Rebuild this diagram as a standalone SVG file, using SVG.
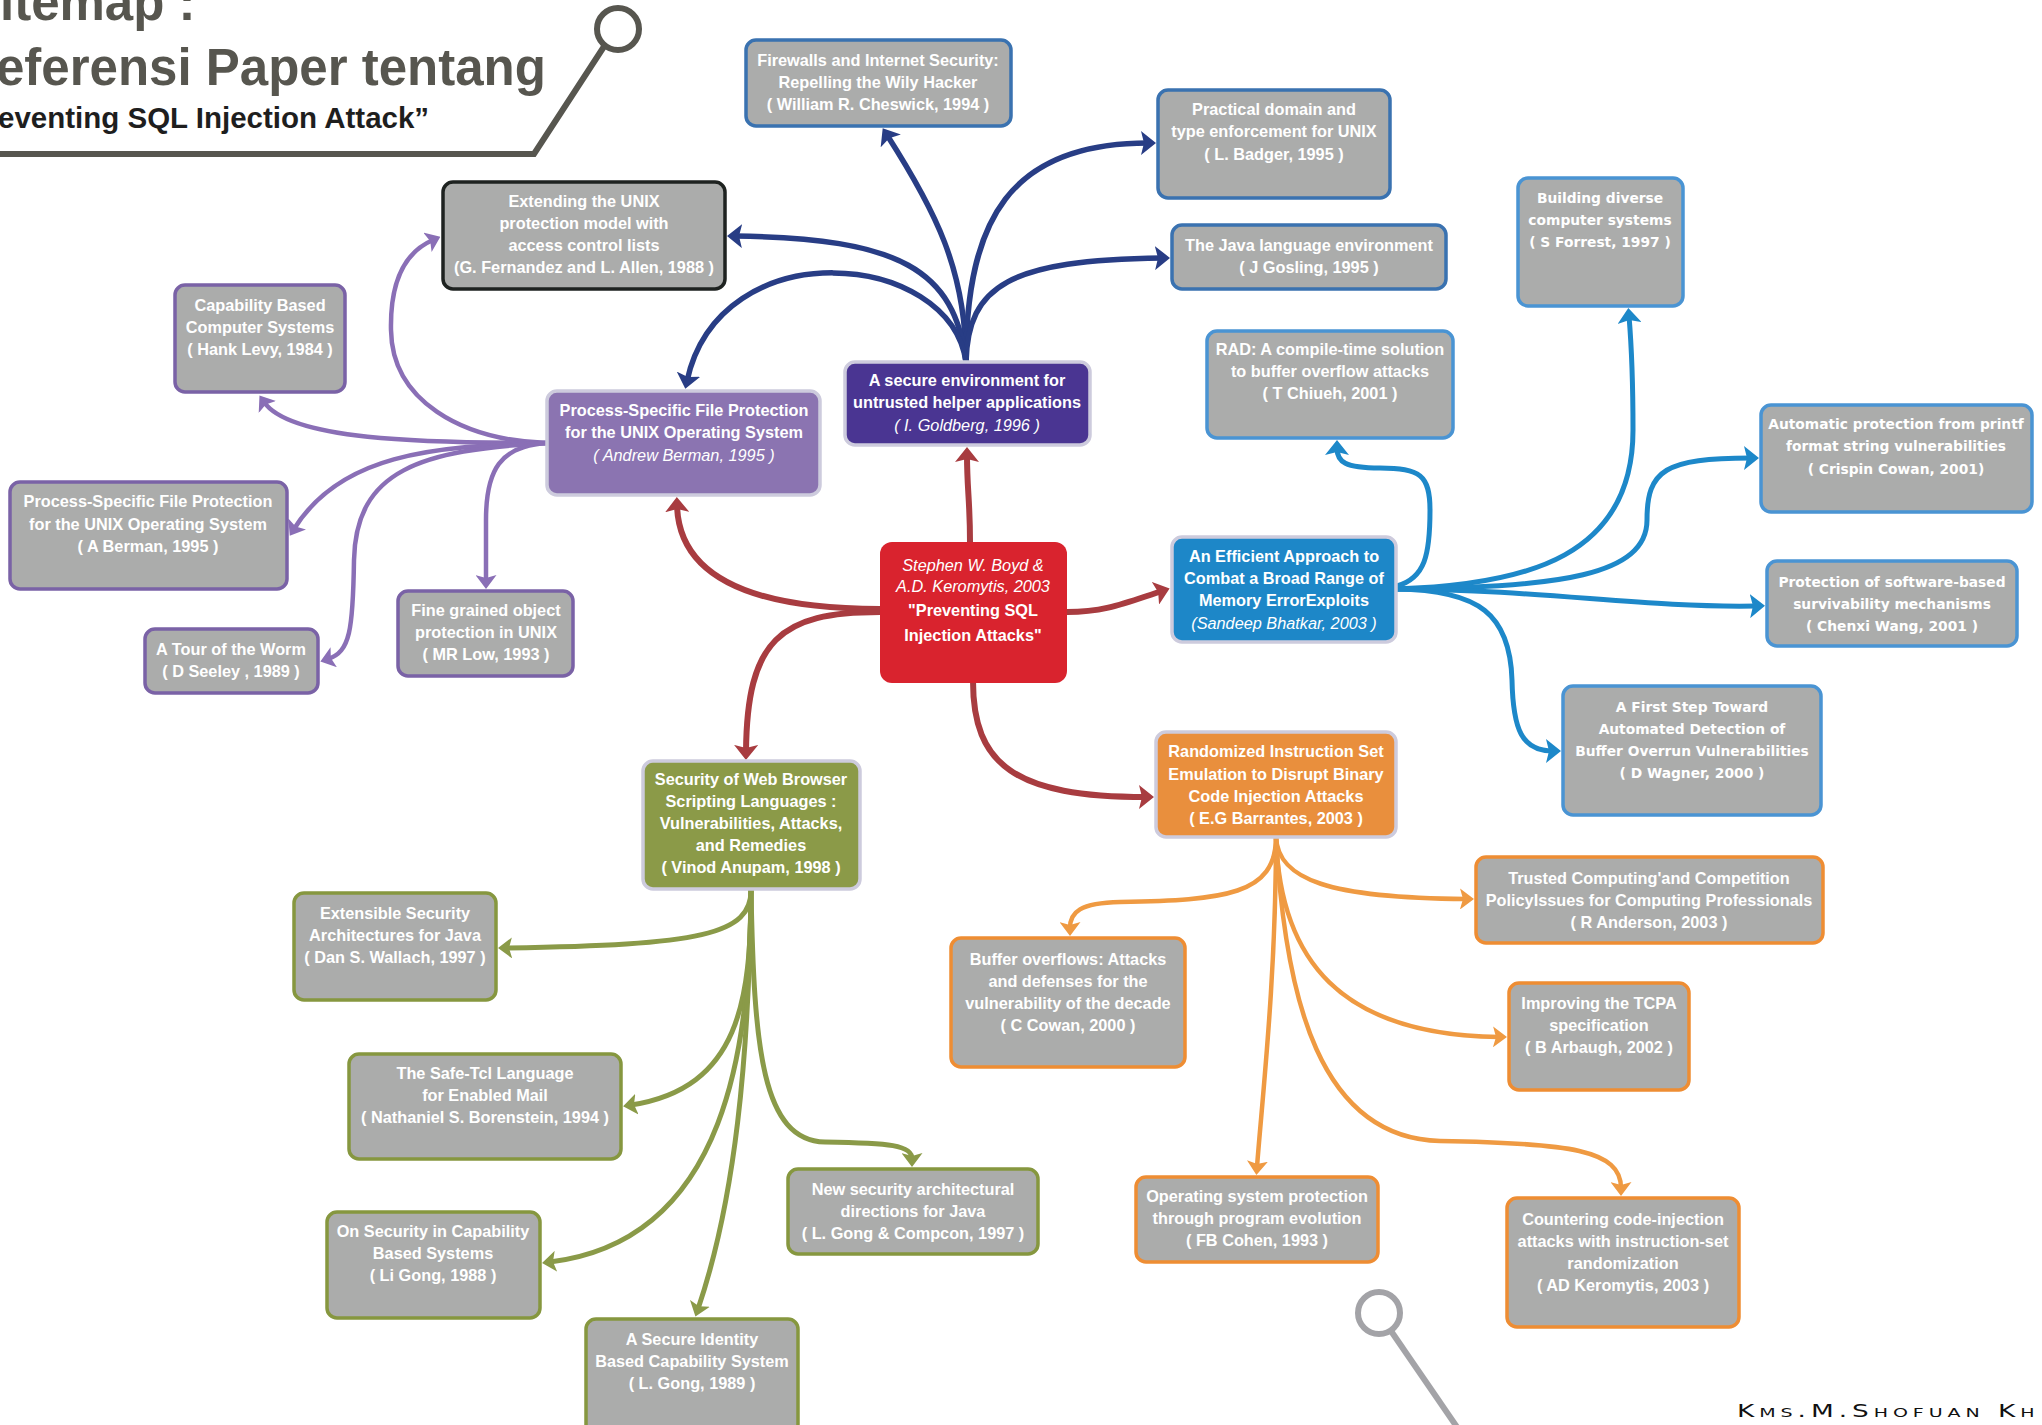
<svg xmlns="http://www.w3.org/2000/svg" width="2042" height="1425" viewBox="0 0 2042 1425">
<style>
.box{fill:#abacab;stroke-width:3.5}
.bNavy{stroke:#3a72b0}
.bBlue{stroke:#4a94d3}
.bPurple{stroke:#7a62a6}
.bBlack{stroke:#1e2220}
.bGreen{stroke:#86973f}
.bOrange{stroke:#ee8d33}
.hub{stroke:#cdcbdd;stroke-width:3.5}
.t{fill:#ffffff;text-anchor:middle;font-weight:bold;font-family:"Liberation Sans",Arial,sans-serif;font-size:16.3px}
.td{font-family:"DejaVu Sans",Verdana,sans-serif;font-size:13.8px}
.it{font-style:italic;font-weight:normal}
.c{fill:none;stroke-linecap:butt}
.cRed{stroke:#a83c40;stroke-width:6;marker-end:url(#mRed)}
.cNavy{stroke:#283d85;stroke-width:5.5;marker-end:url(#mNavy)}
.cPurple{stroke:#8a6fb6;stroke-width:4.5;marker-end:url(#mPurple)}
.cBlue{stroke:#1d88c9;stroke-width:5;marker-end:url(#mBlue)}
.cGreen{stroke:#8a9a48;stroke-width:5;marker-end:url(#mGreen)}
.cOrange{stroke:#ef9a42;stroke-width:4.5;marker-end:url(#mOrange)}
.title{fill:#57564f;font-family:"Liberation Sans",Arial,sans-serif;font-weight:bold}
</style>
<defs>
<marker id="mRed" markerUnits="userSpaceOnUse" markerWidth="15" markerHeight="24" refX="7" refY="12" orient="auto"><path d="M0,0 L15,12 L0,24 L3,12 Z" fill="#a83c40"/></marker>
<marker id="mNavy" markerUnits="userSpaceOnUse" markerWidth="15" markerHeight="24" refX="7" refY="12" orient="auto"><path d="M0,0 L15,12 L0,24 L3,12 Z" fill="#283d85"/></marker>
<marker id="mBlue" markerUnits="userSpaceOnUse" markerWidth="15" markerHeight="24" refX="7" refY="12" orient="auto"><path d="M0,0 L15,12 L0,24 L3,12 Z" fill="#1d88c9"/></marker>
<marker id="mPurple" markerUnits="userSpaceOnUse" markerWidth="14" markerHeight="21" refX="6" refY="10.5" orient="auto"><path d="M0,0 L14,10.5 L0,21 L3,10.5 Z" fill="#8a6fb6"/></marker>
<marker id="mGreen" markerUnits="userSpaceOnUse" markerWidth="14" markerHeight="21" refX="6" refY="10.5" orient="auto"><path d="M0,0 L14,10.5 L0,21 L3,10.5 Z" fill="#8a9a48"/></marker>
<marker id="mOrange" markerUnits="userSpaceOnUse" markerWidth="14" markerHeight="21" refX="6" refY="10.5" orient="auto"><path d="M0,0 L14,10.5 L0,21 L3,10.5 Z" fill="#ef9a42"/></marker>
</defs>
<rect width="2042" height="1425" fill="#ffffff"/>

<g id="title">
<text class="title" x="0" y="20" font-size="51">itemap :</text>
<text class="title" x="-4" y="85" font-size="51">eferensi Paper tentang</text>
<text x="-2" y="128" font-size="29.5" font-weight="bold" fill="#1e1e1e" font-family="Liberation Sans, Arial, sans-serif">eventing SQL Injection Attack”</text>
<polyline points="-5,154 534,154 605,45" fill="none" stroke="#57564f" stroke-width="6"/>
<circle cx="618" cy="29" r="21" fill="none" stroke="#57564f" stroke-width="6"/>
</g>

<g id="connectors">
<path class="c cRed" d="M970,542 C970,500 967,490 967,455"/>
<path class="c cRed" d="M880,609 C780,609 679,590 677,505"/>
<path class="c cRed" d="M880,612 C780,612 747,640 746,752"/>
<path class="c cRed" d="M1067,612 C1105,612 1125,603 1162,591"/>
<path class="c cRed" d="M973,681 C973,765 1015,797 1146,797"/>

<path class="c cNavy" d="M966,362 C966,270 935,210 887,135"/>
<path class="c cNavy" d="M966,362 C966,220 1010,143 1148,143"/>
<path class="c cNavy" d="M966,362 C955,270 900,238 735,236"/>
<path class="c cNavy" d="M966,362 C968,285 1010,260 1162,258"/>
<path class="c cNavy" d="M966,362 C950,250 720,230 687,381"/>

<path class="c cPurple" d="M547,443 C460,440 392,400 391,330 C390,280 405,252 433,240"/>
<path class="c cPurple" d="M547,443 C420,443 290,440 264,402"/>
<path class="c cPurple" d="M547,443 C430,446 340,455 294,529"/>
<path class="c cPurple" d="M547,443 C420,450 356,470 354,560 C353,630 350,652 328,659"/>
<path class="c cPurple" d="M547,443 C500,446 486,470 486,520 L486,581"/>

<path class="c cBlue" d="M1396,589 C1530,585 1633,555 1633,430 C1633,370 1631,340 1629,316"/>
<path class="c cBlue" d="M1396,589 C1560,588 1647,575 1647,520 C1647,470 1665,458 1751,458"/>
<path class="c cBlue" d="M1396,589 C1550,590 1640,608 1757,606"/>
<path class="c cBlue" d="M1396,589 C1480,590 1510,615 1512,680 C1513,730 1522,751 1553,751"/>
<path class="c cBlue" d="M1397,586 C1425,578 1430,555 1430,510 C1430,475 1420,468 1380,468 C1345,468 1337,462 1337,448"/>

<path class="c cGreen" d="M751,889 C752,935 700,945 506,948"/>
<path class="c cGreen" d="M751,889 C751,1000 740,1088 631,1105"/>
<path class="c cGreen" d="M751,889 C754,1050 762,1140 825,1142 C890,1143 912,1145 912,1159"/>
<path class="c cGreen" d="M751,889 C750,1040 730,1240 550,1262"/>
<path class="c cGreen" d="M751,889 C749,1060 735,1200 698,1309"/>

<path class="c cOrange" d="M1276,837 C1276,895 1225,900 1120,902 C1080,903 1070,912 1070,928"/>
<path class="c cOrange" d="M1276,837 C1278,880 1330,898 1466,899"/>
<path class="c cOrange" d="M1276,837 C1280,960 1340,1035 1499,1037"/>
<path class="c cOrange" d="M1276,837 C1276,980 1262,1100 1257,1167"/>
<path class="c cOrange" d="M1276,837 C1285,1000 1320,1138 1440,1141 C1570,1143 1621,1150 1621,1188"/>
</g>

<g id="n-firewalls"><rect class="box bNavy" x="746" y="40" width="265" height="86" rx="10"/>
<text class="t"><tspan x="878" y="66">Firewalls and Internet Security:</tspan><tspan x="878" y="88">Repelling the Wily Hacker</tspan><tspan x="878" y="110">( William R. Cheswick, 1994 )</tspan></text></g>

<g id="n-practical"><rect class="box bNavy" x="1158" y="90" width="232" height="108" rx="10"/>
<text class="t"><tspan x="1274" y="115">Practical domain and</tspan><tspan x="1274" y="137">type enforcement for UNIX</tspan><tspan x="1274" y="160">( L. Badger, 1995 )</tspan></text></g>

<g id="n-extending"><rect class="box bBlack" x="443" y="182" width="282" height="107" rx="10"/>
<text class="t"><tspan x="584" y="207">Extending the UNIX</tspan><tspan x="584" y="229">protection model with</tspan><tspan x="584" y="251">access control lists</tspan><tspan x="584" y="273">(G. Fernandez and L. Allen, 1988 )</tspan></text></g>

<g id="n-java"><rect class="box bNavy" x="1172" y="225" width="274" height="64" rx="10"/>
<text class="t"><tspan x="1309" y="251">The Java language environment</tspan><tspan x="1309" y="273">( J Gosling, 1995 )</tspan></text></g>

<g id="n-building"><rect class="box bBlue" x="1518" y="178" width="165" height="128" rx="10"/>
<text class="t td"><tspan x="1600" y="203">Building diverse</tspan><tspan x="1600" y="225">computer systems</tspan><tspan x="1600" y="247">( S Forrest, 1997 )</tspan></text></g>

<g id="n-capability"><rect class="box bPurple" x="175" y="285" width="170" height="107" rx="10"/>
<text class="t"><tspan x="260" y="311">Capability Based</tspan><tspan x="260" y="333">Computer Systems</tspan><tspan x="260" y="355">( Hank Levy, 1984 )</tspan></text></g>

<g id="n-rad"><rect class="box bBlue" x="1207" y="331" width="246" height="107" rx="10"/>
<text class="t"><tspan x="1330" y="355">RAD: A compile-time solution</tspan><tspan x="1330" y="377">to buffer overflow attacks</tspan><tspan x="1330" y="399">( T Chiueh, 2001 )</tspan></text></g>

<g id="n-secure-env"><rect class="hub" x="845" y="362" width="245" height="83" rx="10" fill="#4a3592"/>
<text class="t"><tspan x="967" y="386">A secure environment for</tspan><tspan x="967" y="408">untrusted helper applications</tspan><tspan class="it" x="967" y="431">( I. Goldberg, 1996 )</tspan></text></g>

<g id="n-psfp-hub"><rect class="hub" x="547" y="391" width="273" height="104" rx="10" fill="#8b74b1"/>
<text class="t"><tspan x="684" y="416">Process-Specific File Protection</tspan><tspan x="684" y="438">for the UNIX Operating System</tspan><tspan class="it" x="684" y="461">( Andrew Berman, 1995 )</tspan></text></g>

<g id="n-automatic"><rect class="box bBlue" x="1761" y="405" width="271" height="107" rx="10"/>
<text class="t td"><tspan x="1896" y="429">Automatic protection from printf</tspan><tspan x="1896" y="451">format string vulnerabilities</tspan><tspan x="1896" y="474">( Crispin Cowan, 2001)</tspan></text></g>

<g id="n-psfp-gray"><rect class="box bPurple" x="10" y="482" width="277" height="107" rx="10"/>
<text class="t"><tspan x="148" y="507">Process-Specific File Protection</tspan><tspan x="148" y="530">for the UNIX Operating System</tspan><tspan x="148" y="552">( A Berman, 1995 )</tspan></text></g>

<g id="n-center"><rect x="880" y="542" width="187" height="141" rx="12" fill="#d9232e"/>
<text class="t"><tspan class="it" x="973" y="571">Stephen W. Boyd &amp;</tspan><tspan class="it" x="973" y="592">A.D. Keromytis, 2003</tspan><tspan x="973" y="616">"Preventing SQL</tspan><tspan x="973" y="641">Injection Attacks"</tspan></text></g>

<g id="n-efficient"><rect class="hub" x="1172" y="537" width="224" height="105" rx="10" fill="#1d87c8"/>
<text class="t"><tspan x="1284" y="562">An Efficient Approach to</tspan><tspan x="1284" y="584">Combat a Broad Range of</tspan><tspan x="1284" y="606">Memory ErrorExploits</tspan><tspan class="it" x="1284" y="629">(Sandeep Bhatkar, 2003 )</tspan></text></g>

<g id="n-protection"><rect class="box bBlue" x="1767" y="561" width="250" height="85" rx="10"/>
<text class="t td"><tspan x="1892" y="587">Protection of software-based</tspan><tspan x="1892" y="609">survivability mechanisms</tspan><tspan x="1892" y="631">( Chenxi Wang, 2001 )</tspan></text></g>

<g id="n-fine"><rect class="box bPurple" x="398" y="591" width="175" height="85" rx="10"/>
<text class="t"><tspan x="486" y="616">Fine grained object</tspan><tspan x="486" y="638">protection in UNIX</tspan><tspan x="486" y="660">( MR Low, 1993 )</tspan></text></g>

<g id="n-tour"><rect class="box bPurple" x="145" y="629" width="173" height="64" rx="10"/>
<text class="t"><tspan x="231" y="655">A Tour of the Worm</tspan><tspan x="231" y="677">( D Seeley , 1989 )</tspan></text></g>

<g id="n-first-step"><rect class="box bBlue" x="1563" y="686" width="258" height="129" rx="10"/>
<text class="t td"><tspan x="1692" y="712">A First Step Toward</tspan><tspan x="1692" y="734">Automated Detection of</tspan><tspan x="1692" y="756">Buffer Overrun Vulnerabilities</tspan><tspan x="1692" y="778">( D Wagner, 2000 )</tspan></text></g>

<g id="n-randomized"><rect class="hub" x="1156" y="732" width="240" height="105" rx="10" fill="#e98f3d"/>
<text class="t"><tspan x="1276" y="757">Randomized Instruction Set</tspan><tspan x="1276" y="780">Emulation to Disrupt Binary</tspan><tspan x="1276" y="802">Code Injection Attacks</tspan><tspan x="1276" y="824">( E.G Barrantes, 2003 )</tspan></text></g>

<g id="n-web"><rect class="hub" x="643" y="761" width="217" height="128" rx="10" fill="#8b9a48"/>
<text class="t"><tspan x="751" y="785">Security of Web Browser</tspan><tspan x="751" y="807">Scripting Languages :</tspan><tspan x="751" y="829">Vulnerabilities, Attacks,</tspan><tspan x="751" y="851">and Remedies</tspan><tspan x="751" y="873">( Vinod Anupam, 1998 )</tspan></text></g>

<g id="n-trusted"><rect class="box bOrange" x="1476" y="857" width="347" height="86" rx="10"/>
<text class="t"><tspan x="1649" y="884">Trusted Computing'and Competition</tspan><tspan x="1649" y="906">PolicyIssues for Computing Professionals</tspan><tspan x="1649" y="928">( R Anderson, 2003 )</tspan></text></g>

<g id="n-extensible"><rect class="box bGreen" x="294" y="893" width="202" height="107" rx="10"/>
<text class="t"><tspan x="395" y="919">Extensible Security</tspan><tspan x="395" y="941">Architectures for Java</tspan><tspan x="395" y="963">( Dan S. Wallach, 1997 )</tspan></text></g>

<g id="n-buffer"><rect class="box bOrange" x="951" y="938" width="234" height="129" rx="10"/>
<text class="t"><tspan x="1068" y="965">Buffer overflows: Attacks</tspan><tspan x="1068" y="987">and defenses for the</tspan><tspan x="1068" y="1009">vulnerability of the decade</tspan><tspan x="1068" y="1031">( C Cowan, 2000 )</tspan></text></g>

<g id="n-improving"><rect class="box bOrange" x="1509" y="983" width="180" height="107" rx="10"/>
<text class="t"><tspan x="1599" y="1009">Improving the TCPA</tspan><tspan x="1599" y="1031">specification</tspan><tspan x="1599" y="1053">( B Arbaugh, 2002 )</tspan></text></g>

<g id="n-safetcl"><rect class="box bGreen" x="349" y="1054" width="272" height="105" rx="10"/>
<text class="t"><tspan x="485" y="1079">The Safe-Tcl Language</tspan><tspan x="485" y="1101">for Enabled Mail</tspan><tspan x="485" y="1123">( Nathaniel S. Borenstein, 1994 )</tspan></text></g>

<g id="n-newsec"><rect class="box bGreen" x="788" y="1169" width="250" height="85" rx="10"/>
<text class="t"><tspan x="913" y="1195">New security architectural</tspan><tspan x="913" y="1217">directions for Java</tspan><tspan x="913" y="1239">( L. Gong &amp; Compcon, 1997 )</tspan></text></g>

<g id="n-operating"><rect class="box bOrange" x="1136" y="1177" width="242" height="85" rx="10"/>
<text class="t"><tspan x="1257" y="1202">Operating system protection</tspan><tspan x="1257" y="1224">through program evolution</tspan><tspan x="1257" y="1246">( FB Cohen, 1993 )</tspan></text></g>

<g id="n-countering"><rect class="box bOrange" x="1507" y="1198" width="232" height="129" rx="10"/>
<text class="t"><tspan x="1623" y="1225">Countering code-injection</tspan><tspan x="1623" y="1247">attacks with instruction-set</tspan><tspan x="1623" y="1269">randomization</tspan><tspan x="1623" y="1291">( AD Keromytis, 2003 )</tspan></text></g>

<g id="n-onsec"><rect class="box bGreen" x="327" y="1212" width="213" height="106" rx="10"/>
<text class="t"><tspan x="433" y="1237">On Security in Capability</tspan><tspan x="433" y="1259">Based Systems</tspan><tspan x="433" y="1281">( Li Gong, 1988 )</tspan></text></g>

<g id="n-identity"><rect class="box bGreen" x="586" y="1319" width="212" height="115" rx="10"/>
<text class="t"><tspan x="692" y="1345">A Secure Identity</tspan><tspan x="692" y="1367">Based Capability System</tspan><tspan x="692" y="1389">( L. Gong, 1989 )</tspan></text></g>

<g id="deco">
<circle cx="1379" cy="1313" r="21" fill="none" stroke="#a3a3a7" stroke-width="6"/>
<line x1="1391" y1="1331" x2="1459" y2="1430" stroke="#a3a3a7" stroke-width="6"/>
<text transform="translate(1737 1417) scale(1.55 1)" x="0" y="0" font-family="DejaVu Sans, Verdana, sans-serif" font-size="17" font-variant="small-caps" letter-spacing="3.2" fill="#111">Kms.M.Shofuan Kh</text>
</g>
</svg>
